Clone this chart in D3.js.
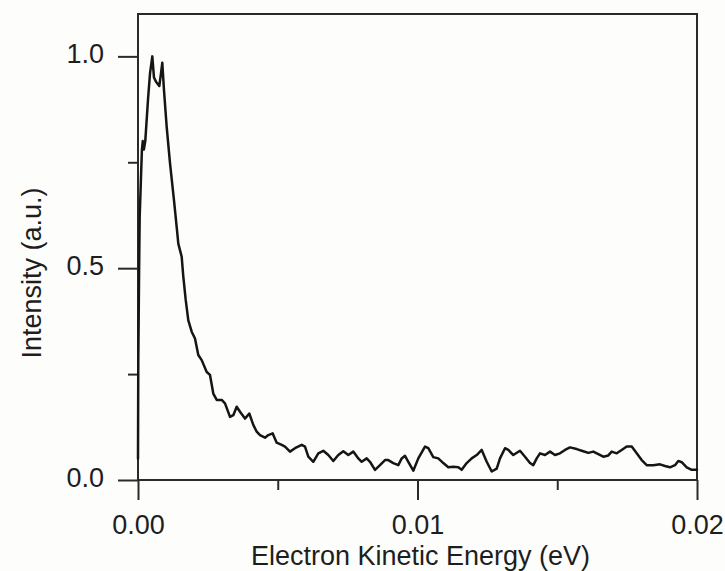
<!DOCTYPE html>
<html>
<head>
<meta charset="utf-8">
<script src="https://cdn.jsdelivr.net/npm/d3@7"></script>
<style>
  html, body { margin: 0; padding: 0; background: #fdfdfb; }
  svg { display: block; }
  text { font-family: "Liberation Sans", Arial, sans-serif; fill: #1e1e1e; }
</style>
</head>
<body>
<svg id="chart" width="725" height="571"></svg>
<script>
// Photoelectron spectrum: electron kinetic energy (eV) vs normalised intensity
const energy = [
  0, 0.00001, 0.00004, 0.00006, 0.00010, 0.00014, 0.00017, 0.00021, 0.00026, 0.00036,
  0.00043, 0.000512, 0.000572, 0.000644, 0.000762, 0.000823, 0.000869, 0.00093, 0.001027, 0.001145,
  0.001288, 0.001395, 0.001442, 0.001563, 0.001621, 0.001707, 0.0018, 0.001921, 0.002039, 0.002157,
  0.002279, 0.002458, 0.002576, 0.002694, 0.002816, 0.002995, 0.003113, 0.003292, 0.00341, 0.003531,
  0.003649, 0.003828, 0.003982, 0.004125, 0.004247, 0.004365, 0.004544, 0.004662, 0.004819, 0.004962,
  0.005141, 0.005259, 0.005438, 0.005617, 0.005857, 0.005975, 0.006093, 0.006272, 0.006451, 0.00663,
  0.006809, 0.006988, 0.007166, 0.007345, 0.007524, 0.007703, 0.007882, 0.008003, 0.008183, 0.0083,
  0.008479, 0.008658, 0.008837, 0.008955, 0.009134, 0.009313, 0.009435, 0.009553, 0.009671, 0.00985,
  0.010029, 0.010268, 0.010386, 0.010565, 0.010744, 0.010923, 0.011102, 0.011281, 0.01146, 0.011581,
  0.01176, 0.011939, 0.012118, 0.012297, 0.012476, 0.012655, 0.012834, 0.012952, 0.013131, 0.013249,
  0.013428, 0.013667, 0.013846, 0.014025, 0.014143, 0.014265, 0.014383, 0.014562, 0.014741, 0.01492,
  0.015098, 0.015277, 0.015456, 0.015696, 0.015932, 0.016111, 0.01629, 0.016469, 0.016648, 0.016827,
  0.016948, 0.017127, 0.017306, 0.017485, 0.017664, 0.017843, 0.018021, 0.0182, 0.018437, 0.018676,
  0.018855, 0.019034, 0.019213, 0.019331, 0.019453, 0.019632, 0.019811, 0.02
];
const intensity = [
  0.05, 0.28, 0.50, 0.62, 0.70, 0.78, 0.80, 0.78, 0.80, 0.90,
  0.96, 1.00, 0.95, 0.94, 0.93, 0.96, 0.985, 0.92, 0.833, 0.748,
  0.66, 0.59, 0.558, 0.527, 0.48, 0.425, 0.377, 0.35, 0.334, 0.295,
  0.283, 0.255, 0.248, 0.204, 0.189, 0.189, 0.181, 0.149, 0.153, 0.173,
  0.161, 0.145, 0.157, 0.13, 0.114, 0.106, 0.10, 0.106, 0.11, 0.088,
  0.083, 0.079, 0.067, 0.075, 0.083, 0.079, 0.055, 0.043, 0.063, 0.069,
  0.059, 0.045, 0.059, 0.068, 0.059, 0.067, 0.051, 0.043, 0.051, 0.043,
  0.024, 0.035, 0.047, 0.047, 0.04, 0.035, 0.051, 0.057, 0.043, 0.022,
  0.051, 0.079, 0.075, 0.054, 0.051, 0.04, 0.03, 0.031, 0.03, 0.024,
  0.04, 0.051, 0.059, 0.071, 0.043, 0.02, 0.027, 0.051, 0.075, 0.071,
  0.059, 0.069, 0.055, 0.04, 0.035, 0.051, 0.063, 0.059, 0.067, 0.059,
  0.063, 0.071, 0.077, 0.073, 0.068, 0.064, 0.067, 0.061, 0.055, 0.058,
  0.067, 0.063, 0.071, 0.079, 0.079, 0.063, 0.047, 0.035, 0.035, 0.037,
  0.033, 0.03, 0.035, 0.045, 0.042, 0.03, 0.024, 0.024
];

const xMajorTicks = [0, 0.01, 0.02];
const xMinorTicks = [0.005, 0.015];
const yMajorTicks = [0, 0.5, 1.0];
const yMinorTicks = [0.25, 0.75];
const xTitle = "Electron Kinetic Energy (eV)";
const yTitle = "Intensity (a.u.)";

const svg = d3.select("#chart");
const margin = { left: 138, right: 28, top: 14, bottom: 91 };
const W = 725, H = 571;
const innerW = W - margin.left - margin.right;
const innerH = H - margin.top - margin.bottom;

const x = d3.scaleLinear().domain([0, 0.02]).range([0, innerW]);
const y = d3.scaleLinear().domain([0, 1.1]).range([innerH, 0]);

const g = svg.append("g").attr("transform", `translate(${margin.left},${margin.top})`);

const axisColor = "#2a2a2a";
const fontSize = 27;

// minor ticks (unlabelled)
g.append("g")
  .attr("transform", `translate(0,${innerH})`)
  .call(d3.axisBottom(x).tickValues(xMinorTicks).tickSize(10).tickFormat(""))
  .call(a => a.select(".domain").remove());
g.append("g")
  .call(d3.axisLeft(y).tickValues(yMinorTicks).tickSize(10).tickFormat(""))
  .call(a => a.select(".domain").remove());

// major ticks with labels
const xAxis = g.append("g")
  .attr("transform", `translate(0,${innerH})`)
  .call(d3.axisBottom(x).tickValues(xMajorTicks).tickSize(20).tickPadding(15)
        .tickFormat(d3.format(".2f")))
  .call(a => a.select(".domain").remove());
const yAxis = g.append("g")
  .call(d3.axisLeft(y).tickValues(yMajorTicks).tickSize(20).tickPadding(14)
        .tickFormat(d3.format(".1f")))
  .call(a => a.select(".domain").remove());

g.selectAll(".tick line").attr("stroke", axisColor).attr("stroke-width", 2);
g.selectAll(".tick text")
  .attr("font-size", fontSize)
  .attr("font-family", "'Liberation Sans', Arial, sans-serif")
  .attr("fill", "#1e1e1e");
yAxis.selectAll(".tick text").attr("dy", "0.23em");

// frame around the plot area
g.append("rect")
  .attr("x", 0).attr("y", 0)
  .attr("width", innerW).attr("height", innerH)
  .attr("fill", "none")
  .attr("stroke", axisColor)
  .attr("stroke-width", 2);

// spectrum trace
const pts = energy.map((e, i) => [e, intensity[i]]);
const line = d3.line().x(d => x(d[0])).y(d => y(d[1]));
g.append("path")
  .datum(pts)
  .attr("d", line)
  .attr("fill", "none")
  .attr("stroke", "#151515")
  .attr("stroke-width", 2.5)
  .attr("stroke-linejoin", "round")
  .attr("stroke-linecap", "round");

// axis titles
svg.append("text")
  .attr("x", margin.left + innerW / 2 + 3)
  .attr("y", 565)
  .attr("text-anchor", "middle")
  .attr("font-size", fontSize)
  .text(xTitle);

svg.append("text")
  .attr("transform", `translate(41,${273}) rotate(-90)`)
  .attr("text-anchor", "middle")
  .attr("font-size", fontSize)
  .text(yTitle);
</script>
</body>
</html>
